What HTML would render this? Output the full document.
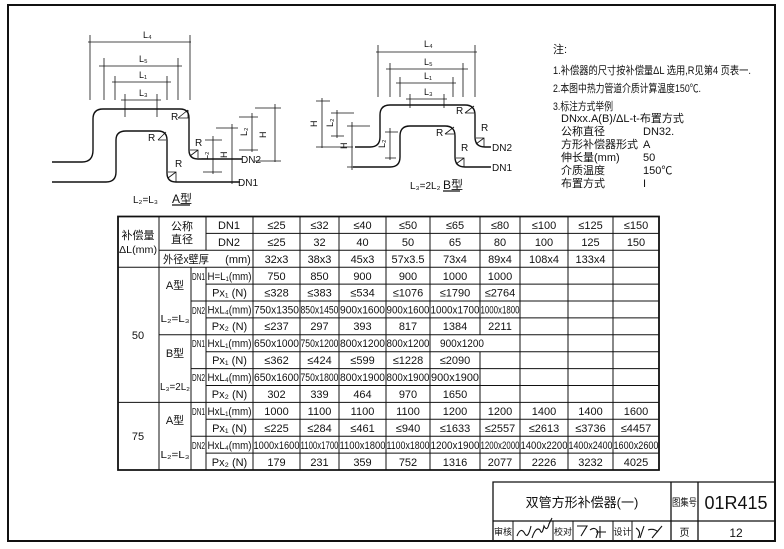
<!DOCTYPE html>
<html><head><meta charset="utf-8"><style>
html,body{margin:0;padding:0;background:#fff;}
svg{display:block;}
text{font-family:"Liberation Sans","Noto Sans CJK SC",sans-serif;fill:#111;}
.t{font-size:11px;text-anchor:middle;}
.s{font-size:10px;}
</style></head><body>
<svg width="784" height="549" viewBox="0 0 784 549" xmlns="http://www.w3.org/2000/svg">
<g fill="none" stroke="#111">
<path d="M8 5 H775 V541 H8 Z" stroke-width="2"/>

<g stroke-width="1.4">
<path d="M52 162 H82 Q93 162 93 150 V119 Q93 109 103 109 H180 Q189 109 189 118 V150 Q189 159 198 159 H242"/>
<path d="M52 182 H106 Q116 182 116 172 V140 Q116 131 126 131 H158 Q167 131 167 140 V173 Q167 182 176 182 H240"/>
</g>
<g stroke-width="0.8">
<path d="M88 42 H191 M90 35 V100 M190 35 V100"/>
<path d="M99 66 H182 M104 58 V100 M178 58 V100"/>
<path d="M112 82 H171 M115 76 V100 M167 76 V100"/>
<path d="M121 100 H161 M125 94 V117 M157 94 V117"/>
<path d="M255 108 H281 M275 104 V162 M255 161 H281"/>
<path d="M239 117 H258 M252 113 V152 M239 150 H258"/>
<path d="M216 128 H238 M232 124 V184"/>
<path d="M205 140 H222 M213 136 V174 M203 172 H222"/>
<path d="M178 118 L188 110 M178 118 H188 V110"/>
<path d="M158 140 L166 132 M158 140 H166"/>
<path d="M190 156 L198 150 M190 150 H198 V158"/>
<path d="M168 178 L176 172 M168 172 H176 V182"/>
</g>
<path d="M172 205 H190" stroke-width="1.2"/>

<g stroke-width="1.4">
<path d="M355 147 H370 Q380 147 380 137 V115 Q380 105 390 105 H465 Q475 105 475 115 V137 Q475 147 485 147 H491"/>
<path d="M353 167 H390 Q400 167 400 157 V136 Q400 126 410 126 H445 Q455 126 455 136 V157 Q455 167 465 167 H491"/>
</g>
<g stroke-width="0.8">
<path d="M376 52 H477 M378 45 V97 M475 45 V97"/>
<path d="M386 69 H468 M390 63 V97 M463 63 V97"/>
<path d="M396 83 H456 M400 77 V97 M453 77 V97"/>
<path d="M406 99 H447 M410 94 V108 M444 94 V108"/>
<path d="M316 101 H330 M322 98 V148 M316 147 H353"/>
<path d="M331 113 H354 M337 110 V138 M331 136 H344"/>
<path d="M347 126 H370 M352 122 V170 M347 167 H353"/>
<path d="M385 132 H398 M390 128 V160 M385 158 H396"/>
<path d="M465 113 L474 106 M465 113 H474"/>
<path d="M445 134 L454 127 M445 134 H454"/>
<path d="M476 144 L484 138 M476 138 H484 V147"/>
<path d="M456 164 L464 158 M456 158 H464 V167"/>
</g>
<path d="M443 191 H460" stroke-width="1.2"/>

<g stroke-width="1">
<path d="M206 233.4 H659 M159 250.3 H659 M118 267.2 H659"/>
<path d="M206 284.1 H659 M191 301 H659 M206 317.9 H659 M159 334.8 H659 M206 351.7 H659 M191 368.6 H659 M206 385.5 H659"/>
<path d="M118 402.4 H659 M206 419.3 H659 M191 436.2 H659 M206 453.1 H659"/>
<path d="M159 216.5 V470 M191 267.2 V470 M206 216.5 V250.3 M206 267.2 V470 M253 216.5 V470"/>
<path d="M300 216.5 V470 M339 216.5 V470 M386 216.5 V470 M430 216.5 V470 M520 216.5 V470 M568 216.5 V470 M613 216.5 V470"/>
<path d="M480 216.5 V334.8 M480 351.7 V470"/>
</g>
<path d="M118 216.5 H659 V470 H118 Z" stroke-width="1.8"/>

<g stroke-width="1.3">
<path d="M493 541 V482 H775 M493 521 H775 M671 482 V541 M698 482 V541"/>
<path d="M513 521 V541 M553 521 V541 M573 521 V541 M613 521 V541 M632 521 V541" stroke-width="1"/>
</g>
<g stroke-width="1.1">
<path d="M517 536 q4 -10 8 -2 q3 5 6 -8 M532 538 q4 -12 8 -8 q2 6 4 -4 q3 6 5 -2 l3 -6"/>
<path d="M577 526 h10 l-6 10 M590 530 q5 -4 8 2 l-2 6 M600 526 v12 M596 532 h10"/>
<path d="M636 528 q6 4 2 10 M644 526 l-4 12 M648 530 q6 -2 10 2 M652 538 l10 -12"/>
</g>
</g>

<g class="s">
<text x="143" y="38" font-size="9">L₄</text>
<text x="139" y="62" font-size="9">L₅</text>
<text x="139" y="78" font-size="9">L₁</text>
<text x="139" y="96" font-size="9">L₃</text>
<text x="171" y="120">R</text>
<text x="148" y="141">R</text>
<text x="195" y="146">R</text>
<text x="175" y="167">R</text>
<text x="241" y="163" font-size="10">DN2</text>
<text x="238" y="186" font-size="10">DN1</text>
<text x="266" y="138" font-size="9" transform="rotate(-90 266 138)">H</text>
<text x="247" y="136" font-size="9" transform="rotate(-90 247 136)">L₂</text>
<text x="227" y="158" font-size="9" transform="rotate(-90 227 158)">H</text>
<text x="208" y="160" font-size="9" transform="rotate(-90 208 160)">L₂</text>
<text x="133" y="203" font-size="10">L₂=L₃</text>
<text x="172" y="203" font-size="12">A型</text>

<text x="424" y="47" font-size="9">L₄</text>
<text x="424" y="65" font-size="9">L₅</text>
<text x="424" y="79" font-size="9">L₁</text>
<text x="424" y="95" font-size="9">L₃</text>
<text x="456" y="114">R</text>
<text x="436" y="136">R</text>
<text x="481" y="131">R</text>
<text x="461" y="151">R</text>
<text x="492" y="151" font-size="10">DN2</text>
<text x="492" y="171" font-size="10">DN1</text>
<text x="317" y="127" font-size="9" transform="rotate(-90 317 127)">H</text>
<text x="333" y="127" font-size="9" transform="rotate(-90 333 127)">L₂</text>
<text x="347" y="149" font-size="9" transform="rotate(-90 347 149)">H</text>
<text x="385" y="148" font-size="9" transform="rotate(-90 385 148)">L₂</text>
<text x="410" y="189" font-size="10">L₃=2L₂</text>
<text x="443" y="189" font-size="12">B型</text>
</g>

<g font-size="11">
<text x="553" y="53">注:</text>
<text x="553" y="74" textLength="198" lengthAdjust="spacingAndGlyphs">1.补偿器的尺寸按补偿量ΔL 选用,R见第4 页表一.</text>
<text x="553" y="92" textLength="148" lengthAdjust="spacingAndGlyphs">2.本图中热力管道介质计算温度150℃.</text>
<text x="553" y="110" textLength="60" lengthAdjust="spacingAndGlyphs">3.标注方式举例</text>
<text x="561" y="122">DNxx.A(B)/ΔL-t-布置方式</text>
<text x="561" y="135">公称直径</text><text x="643" y="135">DN32.</text>
<text x="561" y="148">方形补偿器形式</text><text x="643" y="148">A</text>
<text x="561" y="161">伸长量(mm)</text><text x="643" y="161">50</text>
<text x="561" y="174">介质温度</text><text x="643" y="174">150℃</text>
<text x="561" y="187">布置方式</text><text x="643" y="187">I</text>
</g>

<g class="t">
<text x="138" y="239">补偿量</text>
<text x="138" y="253" font-size="10" textLength="38" lengthAdjust="spacingAndGlyphs">ΔL(mm)</text>
<text x="182" y="230">公称</text>
<text x="182" y="243">直径</text>
<text x="229" y="229">DN1</text>
<text x="229" y="246">DN2</text>
<text x="186" y="263" textLength="46" lengthAdjust="spacingAndGlyphs">外径x壁厚</text>
<text x="238" y="263">(mm)</text>
<text x="138" y="339">50</text>
<text x="138" y="440">75</text>
<text x="175" y="289">A型</text>
<text x="175" y="322" font-size="10" textLength="29" lengthAdjust="spacingAndGlyphs">L₂=L₃</text>
<text x="175" y="357">B型</text>
<text x="175" y="390" font-size="10" textLength="30" lengthAdjust="spacingAndGlyphs">L₃=2L₂</text>
<text x="175" y="424">A型</text>
<text x="175" y="458" font-size="10" textLength="29" lengthAdjust="spacingAndGlyphs">L₂=L₃</text>
<text x="198.5" y="280" font-size="10" textLength="13" lengthAdjust="spacingAndGlyphs">DN1</text>
<text x="198.5" y="314" font-size="10" textLength="13" lengthAdjust="spacingAndGlyphs">DN2</text>
<text x="198.5" y="347" font-size="10" textLength="13" lengthAdjust="spacingAndGlyphs">DN1</text>
<text x="198.5" y="381" font-size="10" textLength="13" lengthAdjust="spacingAndGlyphs">DN2</text>
<text x="198.5" y="415" font-size="10" textLength="13" lengthAdjust="spacingAndGlyphs">DN1</text>
<text x="198.5" y="449" font-size="10" textLength="13" lengthAdjust="spacingAndGlyphs">DN2</text>
</g>
<g class="t" font-size="10">
<text x="229.5" y="280" textLength="44" lengthAdjust="spacingAndGlyphs">H=L₁(mm)</text>
<text x="229.5" y="296.5">Px₁ (N)</text>
<text x="229.5" y="313.5" textLength="44" lengthAdjust="spacingAndGlyphs">HxL₄(mm)</text>
<text x="229.5" y="330">Px₂ (N)</text>
<text x="229.5" y="347" textLength="44" lengthAdjust="spacingAndGlyphs">HxL₁(mm)</text>
<text x="229.5" y="364">Px₁ (N)</text>
<text x="229.5" y="381" textLength="44" lengthAdjust="spacingAndGlyphs">HxL₄(mm)</text>
<text x="229.5" y="398">Px₂ (N)</text>
<text x="229.5" y="415" textLength="44" lengthAdjust="spacingAndGlyphs">HxL₁(mm)</text>
<text x="229.5" y="432">Px₁ (N)</text>
<text x="229.5" y="449" textLength="44" lengthAdjust="spacingAndGlyphs">HxL₄(mm)</text>
<text x="229.5" y="466">Px₂ (N)</text>
</g>
<g class="t">
<text x="276.5" y="229">≤25</text><text x="319.5" y="229">≤32</text><text x="362.5" y="229">≤40</text><text x="408" y="229">≤50</text><text x="455" y="229">≤65</text><text x="500" y="229">≤80</text><text x="544" y="229">≤100</text><text x="590.5" y="229">≤125</text><text x="636" y="229">≤150</text>
<text x="276.5" y="246">≤25</text><text x="319.5" y="246">32</text><text x="362.5" y="246">40</text><text x="408" y="246">50</text><text x="455" y="246">65</text><text x="500" y="246">80</text><text x="544" y="246">100</text><text x="590.5" y="246">125</text><text x="636" y="246">150</text>
<text x="276.5" y="263">32x3</text><text x="319.5" y="263">38x3</text><text x="362.5" y="263">45x3</text><text x="408" y="263">57x3.5</text><text x="455" y="263">73x4</text><text x="500" y="263">89x4</text><text x="544" y="263">108x4</text><text x="590.5" y="263">133x4</text>
<text x="276.5" y="280">750</text><text x="319.5" y="280">850</text><text x="362.5" y="280">900</text><text x="408" y="280">900</text><text x="455" y="280">1000</text><text x="500" y="280">1000</text>
<text x="276.5" y="296.5">≤328</text><text x="319.5" y="296.5">≤383</text><text x="362.5" y="296.5">≤534</text><text x="408" y="296.5">≤1076</text><text x="455" y="296.5">≤1790</text><text x="500" y="296.5">≤2764</text>
<text x="276.5" y="313.5" textLength="45" lengthAdjust="spacingAndGlyphs">750x1350</text><text x="319.5" y="313.5" textLength="38" lengthAdjust="spacingAndGlyphs">850x1450</text><text x="362.5" y="313.5" textLength="45" lengthAdjust="spacingAndGlyphs">900x1600</text><text x="408" y="313.5" textLength="43" lengthAdjust="spacingAndGlyphs">900x1600</text><text x="455" y="313.5" textLength="49" lengthAdjust="spacingAndGlyphs">1000x1700</text><text x="500" y="313.5" textLength="39" lengthAdjust="spacingAndGlyphs">1000x1800</text>
<text x="276.5" y="330">≤237</text><text x="319.5" y="330">297</text><text x="362.5" y="330">393</text><text x="408" y="330">817</text><text x="455" y="330">1384</text><text x="500" y="330">2211</text>
<text x="276.5" y="347" textLength="45" lengthAdjust="spacingAndGlyphs">650x1000</text><text x="319.5" y="347" textLength="38" lengthAdjust="spacingAndGlyphs">750x1200</text><text x="362.5" y="347" textLength="45" lengthAdjust="spacingAndGlyphs">800x1200</text><text x="408" y="347" textLength="43" lengthAdjust="spacingAndGlyphs">800x1200</text><text x="462" y="347" textLength="44" lengthAdjust="spacingAndGlyphs">900x1200</text>
<text x="276.5" y="364">≤362</text><text x="319.5" y="364">≤424</text><text x="362.5" y="364">≤599</text><text x="408" y="364">≤1228</text><text x="455" y="364">≤2090</text>
<text x="276.5" y="381" textLength="45" lengthAdjust="spacingAndGlyphs">650x1600</text><text x="319.5" y="381" textLength="38" lengthAdjust="spacingAndGlyphs">750x1800</text><text x="362.5" y="381" textLength="45" lengthAdjust="spacingAndGlyphs">800x1900</text><text x="408" y="381" textLength="43" lengthAdjust="spacingAndGlyphs">800x1900</text><text x="455" y="381" textLength="48" lengthAdjust="spacingAndGlyphs">900x1900</text>
<text x="276.5" y="398">302</text><text x="319.5" y="398">339</text><text x="362.5" y="398">464</text><text x="408" y="398">970</text><text x="455" y="398">1650</text>
<text x="276.5" y="415">1000</text><text x="319.5" y="415">1100</text><text x="362.5" y="415">1100</text><text x="408" y="415">1100</text><text x="455" y="415">1200</text><text x="500" y="415">1200</text><text x="544" y="415">1400</text><text x="590.5" y="415">1400</text><text x="636" y="415">1600</text>
<text x="276.5" y="432">≤225</text><text x="319.5" y="432">≤284</text><text x="362.5" y="432">≤461</text><text x="408" y="432">≤940</text><text x="455" y="432">≤1633</text><text x="500" y="432">≤2557</text><text x="544" y="432">≤2613</text><text x="590.5" y="432">≤3736</text><text x="636" y="432">≤4457</text>
<text x="276.5" y="449" textLength="46" lengthAdjust="spacingAndGlyphs">1000x1600</text><text x="319.5" y="449" textLength="38" lengthAdjust="spacingAndGlyphs">1100x1700</text><text x="362.5" y="449" textLength="46" lengthAdjust="spacingAndGlyphs">1100x1800</text><text x="408" y="449" textLength="43" lengthAdjust="spacingAndGlyphs">1100x1800</text><text x="455" y="449" textLength="49" lengthAdjust="spacingAndGlyphs">1200x1900</text><text x="500" y="449" textLength="39" lengthAdjust="spacingAndGlyphs">1200x2000</text><text x="544" y="449" textLength="47" lengthAdjust="spacingAndGlyphs">1400x2200</text><text x="590.5" y="449" textLength="44" lengthAdjust="spacingAndGlyphs">1400x2400</text><text x="636" y="449" textLength="45" lengthAdjust="spacingAndGlyphs">1600x2600</text>
<text x="276.5" y="466">179</text><text x="319.5" y="466">231</text><text x="362.5" y="466">359</text><text x="408" y="466">752</text><text x="455" y="466">1316</text><text x="500" y="466">2077</text><text x="544" y="466">2226</text><text x="590.5" y="466">3232</text><text x="636" y="466">4025</text>
</g>

<text x="582" y="507" font-size="13" text-anchor="middle">双管方形补偿器(一)</text>
<text x="684.5" y="506" font-size="10" text-anchor="middle" textLength="25" lengthAdjust="spacingAndGlyphs">图集号</text>
<text x="736" y="509" font-size="18" text-anchor="middle">01R415</text>
<text x="503" y="535" font-size="9" text-anchor="middle">审核</text>
<text x="563" y="535" font-size="9" text-anchor="middle">校对</text>
<text x="622.5" y="535" font-size="9" text-anchor="middle">设计</text>
<text x="684.5" y="536" font-size="10" text-anchor="middle">页</text>
<text x="736" y="537" font-size="12" text-anchor="middle">12</text>
</svg>
</body></html>
